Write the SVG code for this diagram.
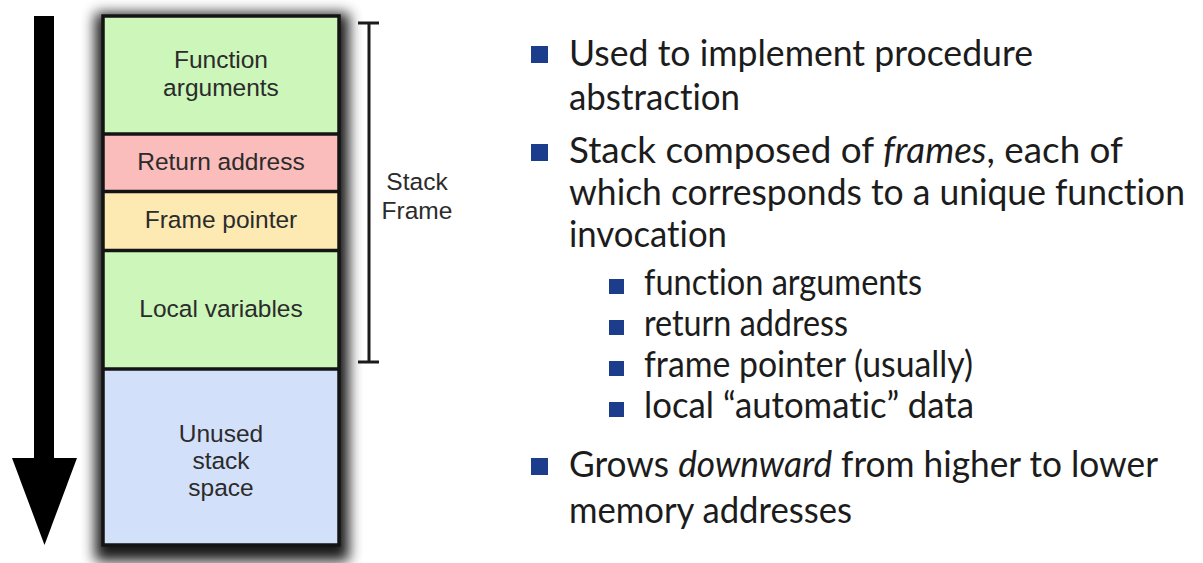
<svg xmlns="http://www.w3.org/2000/svg" width="1203" height="563" viewBox="0 0 1203 563">
  <defs>
    <filter id="boxShadow" x="-25%" y="-10%" width="150%" height="125%">
      <feGaussianBlur stdDeviation="7"/>
    </filter>
    <style>
      .cell { stroke: none; }
      .sep { stroke: #141414; stroke-width: 3.5; }
      .frame { fill: none; stroke: #141414; stroke-width: 3.5; }
      .lbl { font-family: "Liberation Sans", Arial, Helvetica, sans-serif; font-size: 24.5px; fill: #2b2b2b; text-anchor: middle; }
      .bracket { stroke: #1a1a1a; stroke-width: 3; fill: none; }
      .txt { font-family: Lato, "Liberation Sans", Arial, sans-serif; font-size: 36px; fill: #1c1c1c; font-variant-ligatures: none; font-feature-settings: "liga" 0, "clig" 0; }
      .bul { fill: #1c3c8c; }
      .it { font-style: italic; }
    </style>
  </defs>

  <rect width="1203" height="563" fill="#ffffff"/>

  <!-- growth direction arrow -->
  <g id="growth-arrow">
    <rect x="34" y="16" width="20" height="444" fill="#000"/>
    <polygon points="12,458 77,458 44.5,545" fill="#000"/>
  </g>

  <!-- stack column with drop shadow -->
  <g id="stack">
    <rect x="95" y="13" width="254" height="548" fill="#000" opacity="0.9" filter="url(#boxShadow)"/>

    <g id="function-arguments">
      <rect class="cell" x="103" y="16" width="236" height="118" fill="#ccf6ba"/>
      <text class="lbl" x="221" y="68">Function</text>
      <text class="lbl" x="221" y="96">arguments</text>
    </g>
    <g id="return-address">
      <rect class="cell" x="103" y="134" width="236" height="57.5" fill="#fabdbb"/>
      <text class="lbl" x="221" y="170">Return address</text>
    </g>
    <g id="frame-pointer">
      <rect class="cell" x="103" y="191.5" width="236" height="59" fill="#fde9b2"/>
      <text class="lbl" x="221" y="228">Frame pointer</text>
    </g>
    <g id="local-variables">
      <rect class="cell" x="103" y="250.5" width="236" height="118.5" fill="#ccf6ba"/>
      <text class="lbl" x="221" y="317">Local variables</text>
    </g>
    <g id="unused-space">
      <rect class="cell" x="103" y="369" width="236" height="176" fill="#d3e0f9"/>
      <text class="lbl" x="221" y="442">Unused</text>
      <text class="lbl" x="221" y="469">stack</text>
      <text class="lbl" x="221" y="496">space</text>
    </g>

    <line class="sep" x1="103" y1="134" x2="339" y2="134"/>
    <line class="sep" x1="103" y1="191.5" x2="339" y2="191.5"/>
    <line class="sep" x1="103" y1="250.5" x2="339" y2="250.5"/>
    <line class="sep" x1="103" y1="369" x2="339" y2="369"/>
    <rect class="frame" x="103" y="16" width="236" height="529"/>
  </g>

  <!-- stack frame span -->
  <g id="stack-frame-bracket">
    <line class="bracket" x1="369" y1="23" x2="369" y2="362"/>
    <line class="bracket" x1="358" y1="23" x2="379" y2="23"/>
    <line class="bracket" x1="358" y1="362" x2="379" y2="362"/>
    <text class="lbl" x="417" y="190" fill="#333">Stack</text>
    <text class="lbl" x="417" y="219" fill="#333">Frame</text>
  </g>

  <!-- bullet list -->
  <g id="notes">
    <rect class="bul" x="531" y="46" width="17" height="17"/>
    <text class="txt" x="569" y="66" textLength="464" lengthAdjust="spacingAndGlyphs">Used to implement procedure</text>
    <text class="txt" x="569" y="110" textLength="171" lengthAdjust="spacingAndGlyphs">abstraction</text>

    <rect class="bul" x="531" y="144" width="17" height="17"/>
    <text class="txt" x="569" y="163" textLength="554" lengthAdjust="spacingAndGlyphs">Stack composed of <tspan class="it">frames</tspan>, each of</text>
    <text class="txt" x="569" y="205" textLength="616" lengthAdjust="spacingAndGlyphs">which corresponds to a unique function</text>
    <text class="txt" x="569" y="247" textLength="158" lengthAdjust="spacingAndGlyphs">invocation</text>

    <rect class="bul" x="609" y="279" width="15" height="15"/>
    <text class="txt" x="644" y="295" textLength="278" lengthAdjust="spacingAndGlyphs">function arguments</text>
    <rect class="bul" x="609" y="320" width="15" height="15"/>
    <text class="txt" x="644" y="336" textLength="204" lengthAdjust="spacingAndGlyphs">return address</text>
    <rect class="bul" x="609" y="361" width="15" height="15"/>
    <text class="txt" x="644" y="377" textLength="329" lengthAdjust="spacingAndGlyphs">frame pointer (usually)</text>
    <rect class="bul" x="609" y="402" width="15" height="15"/>
    <text class="txt" x="644" y="418" textLength="330" lengthAdjust="spacingAndGlyphs">local “automatic” data</text>

    <rect class="bul" x="531" y="458" width="17" height="17"/>
    <text class="txt" x="569" y="477" textLength="589" lengthAdjust="spacingAndGlyphs">Grows <tspan class="it">downward</tspan> from higher to lower</text>
    <text class="txt" x="569" y="523" textLength="283" lengthAdjust="spacingAndGlyphs">memory addresses</text>
  </g>
</svg>
